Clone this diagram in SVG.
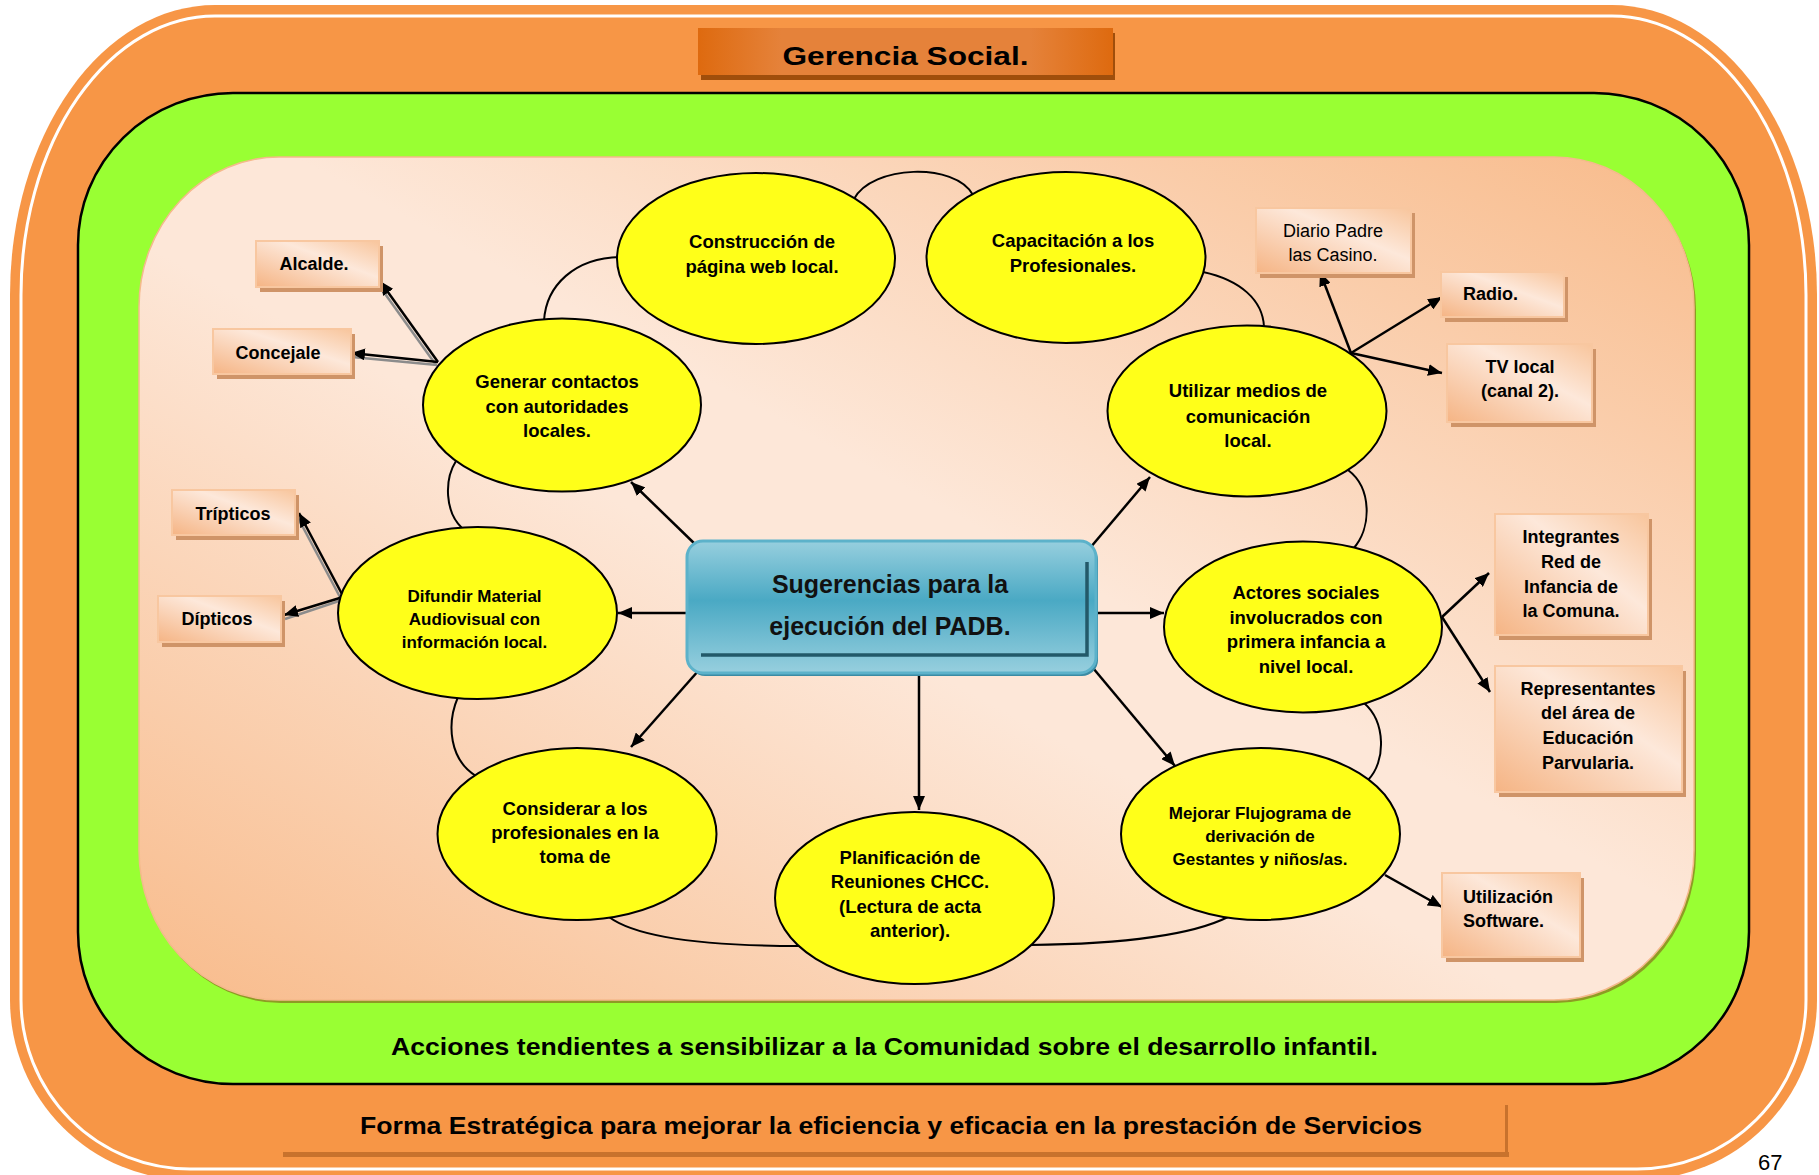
<svg xmlns="http://www.w3.org/2000/svg" width="1819" height="1175" viewBox="0 0 1819 1175">
<defs>
<linearGradient id="peach" x1="1" y1="0" x2="0" y2="1">
<stop offset="0" stop-color="#F8BB8B"/>
<stop offset="0.45" stop-color="#FDE7D8"/>
<stop offset="0.55" stop-color="#FDE7D8"/>
<stop offset="1" stop-color="#F8BB8B"/>
</linearGradient>
<linearGradient id="boxg" x1="0" y1="1" x2="1" y2="0">
<stop offset="0" stop-color="#F5B484"/>
<stop offset="0.6" stop-color="#FDE8DA"/>
<stop offset="1" stop-color="#F8C59C"/>
</linearGradient>
<linearGradient id="blue" x1="0" y1="0" x2="0" y2="1">
<stop offset="0" stop-color="#97CFDE"/>
<stop offset="0.45" stop-color="#4AA9C4"/>
<stop offset="1" stop-color="#97CFDE"/>
</linearGradient>
<linearGradient id="hdr" x1="0" y1="0" x2="1" y2="0">
<stop offset="0" stop-color="#DE6A0F"/>
<stop offset="0.2" stop-color="#E5823A"/>
<stop offset="0.8" stop-color="#E5823A"/>
<stop offset="1" stop-color="#DE6A0F"/>
</linearGradient>
<marker id="ah" viewBox="0 0 14 12" refX="14" refY="6" markerWidth="14" markerHeight="12" markerUnits="userSpaceOnUse" orient="auto">
<path d="M0,0 L14,6 L0,12 Z" fill="#000"/>
</marker>
<style>
.ell{fill:#FFFF19;stroke:#000;stroke-width:2}
.et{font-family:"Liberation Sans",Arial,sans-serif;font-weight:bold;font-size:18.5px;text-anchor:middle;fill:#000}
.et17{font-size:17px}
.bx{fill:url(#boxg);stroke:#F8C7A0;stroke-width:2}
.sh{fill:#CF9468}
.bt{font-family:"Liberation Sans",Arial,sans-serif;font-weight:bold;font-size:18px;text-anchor:middle;fill:#000}
.arc{fill:none;stroke:#000;stroke-width:2}
.ar{fill:none;stroke:#000;stroke-width:2.5;marker-end:url(#ah)}
.gs{fill:none;stroke:#8C8C8C;stroke-width:2.5}
</style>
</defs>

<g id="frame">
<path d="M215,5 H1612 A205,290 0 0 1 1817,295 V1000 A180,180 0 0 1 1637,1180 H190 A180,180 0 0 1 10,1000 V295 A205,290 0 0 1 215,5 Z" fill="#F79646"/>
<path d="M215,16 H1612 A194,279 0 0 1 1806,295 V1000 A169,169 0 0 1 1637,1169 H190 A169,169 0 0 1 21,1000 V295 A194,279 0 0 1 215,16 Z" fill="none" stroke="#FFFFFF" stroke-width="3"/>
<rect x="78" y="93" width="1671" height="991" rx="155" ry="152" fill="#99FF33" stroke="#000" stroke-width="2.5"/>
<rect x="141" y="160" width="1555" height="843" rx="140" ry="150" fill="#8E9B24"/>
<rect x="139" y="157" width="1555" height="843" rx="140" ry="150" fill="url(#peach)" stroke="#F5B98C" stroke-width="1.5"/>
</g>

<g id="header">
<rect x="701" y="33" width="414" height="47" fill="#A04E0B"/>
<rect x="698" y="28" width="415" height="47" fill="url(#hdr)"/>
<text x="905.5" y="65" font-family="'Liberation Sans',Arial,sans-serif" font-weight="bold" font-size="25" text-anchor="middle" textLength="246" lengthAdjust="spacingAndGlyphs">Gerencia Social.</text>
</g>

<g id="connectors">
<path class="arc" d="M544,321 C546,285 575,258 620,257"/>
<path class="arc" d="M854,199 C872,165 955,162 973,195"/>
<path class="arc" d="M1203,272 C1240,280 1263,300 1264,327"/>
<path class="arc" d="M1348,470 C1372,488 1372,528 1353,549"/>
<path class="arc" d="M1364,703 C1386,722 1386,762 1368,780"/>
<path class="arc" d="M1228,917 C1190,936 1120,944 1030,945"/>
<path class="arc" d="M609,917 C640,940 720,946 800,946"/>
<path class="arc" d="M458,697 C446,725 450,760 476,776"/>
<path class="arc" d="M456,461 C444,480 445,512 462,528"/>

<line class="ar" x1="698" y1="547" x2="631" y2="482"/>
<line class="ar" x1="688" y1="613" x2="618" y2="613"/>
<line class="ar" x1="699" y1="670" x2="631" y2="747"/>
<line class="ar" x1="919" y1="673" x2="919" y2="810"/>
<line class="ar" x1="1093" y1="668" x2="1175" y2="766"/>
<line class="ar" x1="1095" y1="613" x2="1164" y2="613"/>
<line class="ar" x1="1090" y1="548" x2="1150" y2="477"/>

<line class="gs" x1="436" y1="365" x2="378" y2="284"/>
<line class="gs" x1="437" y1="365" x2="352" y2="357"/>
<line class="gs" x1="341" y1="599" x2="297" y2="516"/>
<line class="gs" x1="342" y1="600" x2="285" y2="619"/>
<line class="ar" x1="438" y1="362" x2="380" y2="281"/>
<line class="ar" x1="438" y1="362" x2="351" y2="353"/>
<line class="ar" x1="343" y1="596" x2="299" y2="513"/>
<line class="ar" x1="343" y1="597" x2="284" y2="615"/>
<line class="ar" x1="1351" y1="353" x2="1320" y2="272"/>
<line class="ar" x1="1351" y1="353" x2="1442" y2="297"/>
<line class="ar" x1="1351" y1="353" x2="1442" y2="373"/>
<line class="ar" x1="1442" y1="617" x2="1489" y2="573"/>
<line class="ar" x1="1442" y1="617" x2="1490" y2="692"/>
<line class="ar" x1="1385" y1="875" x2="1442" y2="907"/>
</g>

<g id="center">
<rect x="689" y="544" width="409" height="132" rx="16" fill="#3A8BA4"/>
<rect x="687" y="541" width="409" height="132" rx="16" fill="url(#blue)" stroke="#5CB2CA" stroke-width="3"/>
<path d="M701,655 H1087 V562" fill="none" stroke="#235969" stroke-width="3.5"/>
<text x="890" y="593" font-family="'Liberation Sans',Arial,sans-serif" font-weight="bold" font-size="25" text-anchor="middle" fill="#111">Sugerencias para la</text>
<text x="890" y="635" font-family="'Liberation Sans',Arial,sans-serif" font-weight="bold" font-size="25" text-anchor="middle" fill="#111">ejecución del PADB.</text>
</g>

<g id="e1"><ellipse class="ell" cx="562" cy="405" rx="139" ry="86.5"/>
<text class="et" x="557" y="388">Generar contactos</text><text class="et" x="557" y="413">con autoridades</text><text class="et" x="557" y="437">locales.</text></g>
<g id="e2"><ellipse class="ell" cx="756" cy="258.5" rx="139" ry="85.5"/>
<text class="et" x="762" y="248">Construcción de</text><text class="et" x="762" y="273">página web local.</text></g>
<g id="e3"><ellipse class="ell" cx="1066" cy="257.5" rx="139.5" ry="85.5"/>
<text class="et" x="1073" y="247">Capacitación a los</text><text class="et" x="1073" y="272">Profesionales.</text></g>
<g id="e4"><ellipse class="ell" cx="1247" cy="411" rx="139.5" ry="85.5"/>
<text class="et" x="1248" y="397">Utilizar medios de</text><text class="et" x="1248" y="423">comunicación</text><text class="et" x="1248" y="447">local.</text></g>
<g id="e5"><ellipse class="ell" cx="477.5" cy="613" rx="139.5" ry="86"/>
<text class="et et17" x="474.5" y="602">Difundir Material</text><text class="et et17" x="474.5" y="625">Audiovisual con</text><text class="et et17" x="474.5" y="648">información local.</text></g>
<g id="e6"><ellipse class="ell" cx="577" cy="834" rx="139.5" ry="86"/>
<text class="et" x="575" y="815">Considerar a los</text><text class="et" x="575" y="839">profesionales en la</text><text class="et" x="575" y="863">toma de</text></g>
<g id="e7"><ellipse class="ell" cx="914.5" cy="898" rx="139.5" ry="86"/>
<text class="et" x="910" y="864">Planificación de</text><text class="et" x="910" y="888">Reuniones CHCC.</text><text class="et" x="910" y="913">(Lectura de acta</text><text class="et" x="910" y="937">anterior).</text></g>
<g id="e8"><ellipse class="ell" cx="1260.5" cy="834" rx="139.5" ry="86"/>
<text class="et et17" x="1260" y="819">Mejorar Flujograma de</text><text class="et et17" x="1260" y="842">derivación de</text><text class="et et17" x="1260" y="865">Gestantes y niños/as.</text></g>
<g id="e9"><ellipse class="ell" cx="1303" cy="627" rx="139" ry="85.5"/>
<text class="et" x="1306" y="599">Actores sociales</text><text class="et" x="1306" y="624">involucrados con</text><text class="et" x="1306" y="648">primera infancia a</text><text class="et" x="1306" y="673">nivel local.</text></g>

<g id="b-alcalde"><rect class="sh" x="260" y="246" width="123" height="46"/><rect class="bx" x="256" y="241" width="123" height="46"/>
<text class="bt" x="314" y="270">Alcalde.</text></g>
<g id="b-concejale"><rect class="sh" x="217" y="334" width="138" height="45"/><rect class="bx" x="213" y="329" width="138" height="45"/>
<text class="bt" x="278" y="359">Concejale</text></g>
<g id="b-tripticos"><rect class="sh" x="176" y="495" width="123" height="45"/><rect class="bx" x="172" y="490" width="123" height="45"/>
<text class="bt" x="233" y="520">Trípticos</text></g>
<g id="b-dipticos"><rect class="sh" x="162" y="601" width="123" height="46"/><rect class="bx" x="158" y="596" width="123" height="46"/>
<text class="bt" x="217" y="625">Dípticos</text></g>
<g id="b-diario"><rect class="sh" x="1260" y="213" width="155" height="65"/><rect class="bx" x="1256" y="208" width="155" height="65"/>
<text class="bt" style="font-weight:normal" x="1333" y="237">Diario Padre</text><text class="bt" style="font-weight:normal" x="1333" y="261">las Casino.</text></g>
<g id="b-radio"><rect class="sh" x="1445" y="277" width="123" height="45"/><rect class="bx" x="1441" y="272" width="123" height="45"/>
<text class="bt" x="1463" y="300" style="text-anchor:start">Radio.</text></g>
<g id="b-tv"><rect class="sh" x="1451" y="349" width="145" height="78"/><rect class="bx" x="1447" y="344" width="145" height="78"/>
<text class="bt" x="1520" y="373">TV local</text><text class="bt" x="1520" y="397">(canal 2).</text></g>
<g id="b-integrantes"><rect class="sh" x="1499" y="519" width="153" height="121"/><rect class="bx" x="1495" y="514" width="153" height="121"/>
<text class="bt" x="1571" y="543">Integrantes</text><text class="bt" x="1571" y="568">Red de</text><text class="bt" x="1571" y="593">Infancia de</text><text class="bt" x="1571" y="617">la Comuna.</text></g>
<g id="b-representantes"><rect class="sh" x="1499" y="671" width="187" height="126"/><rect class="bx" x="1495" y="666" width="187" height="126"/>
<text class="bt" x="1588" y="695">Representantes</text><text class="bt" x="1588" y="719">del área de</text><text class="bt" x="1588" y="744">Educación</text><text class="bt" x="1588" y="769">Parvularia.</text></g>
<g id="b-utilizacion"><rect class="sh" x="1446" y="878" width="138" height="84"/><rect class="bx" x="1442" y="873" width="138" height="84"/>
<text class="bt" x="1463" y="903" style="text-anchor:start">Utilización</text><text class="bt" x="1463" y="927" style="text-anchor:start">Software.</text></g>

<g id="footer">
<text x="884.5" y="1055" font-family="'Liberation Sans',Arial,sans-serif" font-weight="bold" font-size="24" text-anchor="middle" textLength="987" lengthAdjust="spacingAndGlyphs">Acciones tendientes a sensibilizar a la Comunidad sobre el desarrollo infantil.</text>
<rect x="283" y="1152" width="1226" height="5" fill="#C8722D"/>
<rect x="1505" y="1105" width="3" height="52" fill="#C8722D"/>
<text x="891" y="1134" font-family="'Liberation Sans',Arial,sans-serif" font-weight="bold" font-size="24" text-anchor="middle" textLength="1062" lengthAdjust="spacingAndGlyphs">Forma Estratégica para mejorar la eficiencia y eficacia en la prestación de Servicios</text>
<text x="1758" y="1170" font-family="'Liberation Sans',Arial,sans-serif" font-size="22" fill="#000">67</text>
</g>
</svg>
